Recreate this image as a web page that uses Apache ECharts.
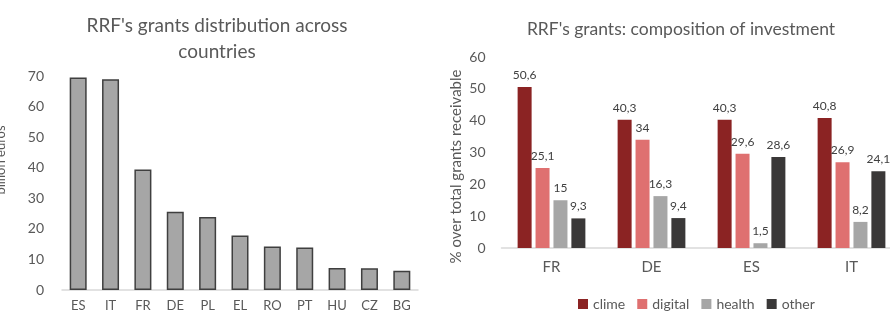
<!DOCTYPE html>
<html>
<head>
<meta charset="utf-8">
<script src="https://cdn.jsdelivr.net/npm/echarts@6/dist/echarts.min.js"></script>
<style>
	html, body{margin: 0;padding: 0;background: #fff;}
	#main{width: 890px;height: 313px;}
</style>
</head>
<body>
<div id="main"></div>
<script>
	// left chart: grants by country (billion euros)
	var countries = ['ES','IT','FR','DE','PL','EL','RO','PT','HU','CZ','BG'];
	var grants = [69.5, 68.9, 39.4, 25.6, 23.9, 17.8, 14.2, 13.9, 7.2, 7.1, 6.3];

	// right chart: composition of investment (% of total grants)
	var members = ['FR','DE','ES','IT'];
	var clime = [50.6, 40.3, 40.3, 40.8];
	var digital = [25.1, 34, 29.6, 26.9];
	var health = [15, 16.3, 1.5, 8.2];
	var other = [9.3, 9.4, 28.6, 24.1];

	var txt = '#595959';
	var font = 'Lato, "Open Sans", sans-serif';

	function comma(p){ return String(p.value).replace('.', ','); }

	function compSeries(name, data, color){
		return {
			name: name,
			type: 'bar',
			xAxisIndex: 1,
			yAxisIndex: 1,
			data: data,
			barWidth: 14,
			barGap: '28%',
			itemStyle: {color: color},
			label: {
				show: true,
				position: 'top',
				distance: 6,
				color: '#404040',
				fontSize: 12,
				fontFamily: font,
				formatter: comma
			}
		};
	}

	var myChart = echarts.init(document.getElementById('main'));
	var option = {
		backgroundColor: '#fff',
		textStyle: {fontFamily: font},
		title: [{
			text: "RRF's grants distribution across\ncountries",
			left: 212,
			top: 8,
			textAlign: 'center',
			textStyle: {color: txt, fontSize: 19, fontWeight: 'normal', lineHeight: 26, fontFamily: font}
		},{
			text: "RRF's grants: composition of investment",
			left: 676,
			top: 15,
			textAlign: 'center',
			textStyle: {color: txt, fontSize: 17.5, fontWeight: 'normal', fontFamily: font}
		}],
		legend: {
			data: ['clime','digital','health','other'],
			left: 573,
			top: 292,
			itemWidth: 10,
			itemHeight: 10,
			itemGap: 12,
			icon: 'rect',
			textStyle: {color: txt, fontSize: 14, fontFamily: font}
		},
		grid: [{
			left: 62, right: 472, top: 76, bottom: 23, outerBoundsMode: 'none'
		},{
			left: 501.5, right: -11.5, top: 57, bottom: 65, outerBoundsMode: 'none'
		}],
		xAxis: [{
			type: 'category',
			gridIndex: 0,
			data: countries,
			axisLine: {lineStyle: {color: '#d9d9d9', width: 1.5}},
			axisTick: {show: false},
			axisLabel: {color: txt, fontSize: 13, margin: 9, fontFamily: font}
		},{
			type: 'category',
			gridIndex: 1,
			data: members,
			axisLine: {lineStyle: {color: '#d9d9d9', width: 1.5}},
			axisTick: {show: false},
			axisLabel: {color: txt, fontSize: 15, margin: 12, fontFamily: font}
		}],
		yAxis: [{
			type: 'value',
			gridIndex: 0,
			min: 0,
			max: 70,
			interval: 10,
			name: 'billion euros',
			nameLocation: 'middle',
			nameGap: 55,
			nameTextStyle: {color: txt, fontSize: 13, fontFamily: font, padding: [0, 0, 0, 46]},
			axisLine: {show: false},
			axisTick: {show: false},
			splitLine: {show: false},
			axisLabel: {color: txt, fontSize: 14, margin: 18, fontFamily: font}
		},{
			type: 'value',
			gridIndex: 1,
			min: 0,
			max: 60,
			interval: 10,
			name: '% over total grants receivable',
			nameLocation: 'middle',
			nameGap: 38,
			nameTextStyle: {color: txt, fontSize: 15, fontFamily: font, padding: [0, 28, 0, 0]},
			axisLine: {show: false},
			axisTick: {show: false},
			splitLine: {show: false},
			axisLabel: {color: txt, fontSize: 14, margin: 16, fontFamily: font}
		}],
		series: [{
			name: 'grants',
			type: 'bar',
			xAxisIndex: 0,
			yAxisIndex: 0,
			data: grants,
			barWidth: 17,
			itemStyle: {color: '#a6a6a6', borderColor: '#3f3f3f', borderWidth: 1.5}
		},
		compSeries('clime', clime, '#8b2323'),
		compSeries('digital', digital, '#df7070'),
		compSeries('health', health, '#a6a6a6'),
		compSeries('other', other, '#3a3838')
		]
	};
	myChart.setOption(option);
</script>
</body>
</html>
